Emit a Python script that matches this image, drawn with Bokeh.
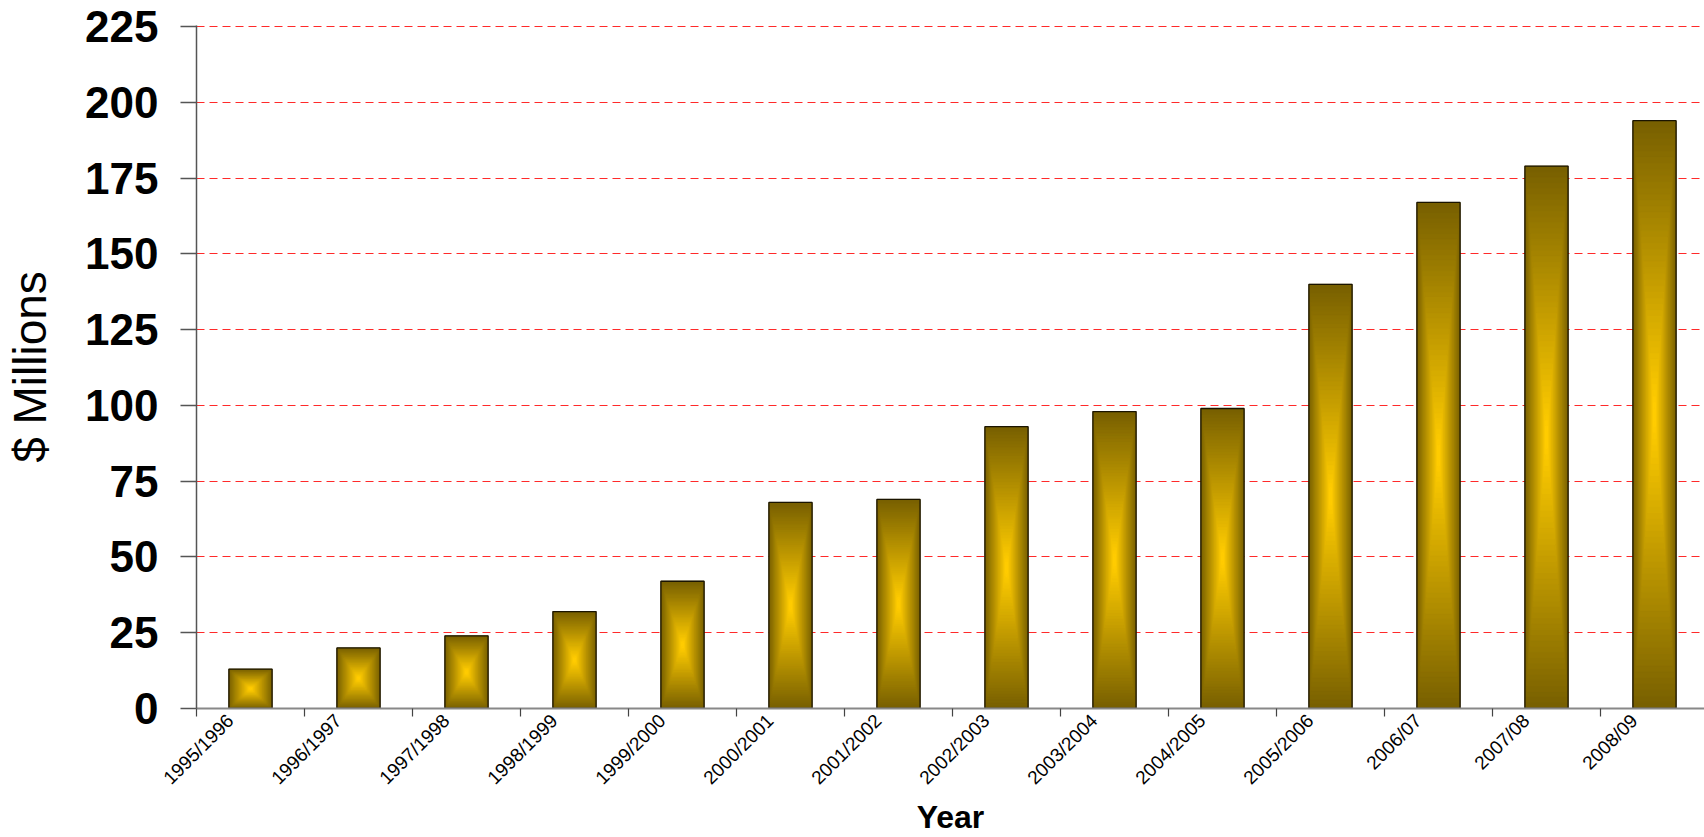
import math
from bokeh.plotting import figure
from bokeh.models import ColumnDataSource, Range1d, FixedTicker
from bokeh.embed import file_html
from bokeh.resources import INLINE

# ---- data ----
categories = ["1995/1996", "1996/1997", "1997/1998", "1998/1999", "1999/2000",
              "2000/2001", "2001/2002", "2002/2003", "2003/2004", "2004/2005",
              "2005/2006", "2006/07", "2007/08", "2008/09"]
values = [13, 20, 24, 32, 42, 68, 69, 93, 98, 99, 140, 167, 179, 194]
y_ticks = [0, 25, 50, 75, 100, 125, 150, 175, 200, 225]

# ---- style ----
FONT = "Liberation Sans"
DARK = (120, 96, 0)
BRIGHT = (255, 204, 0)
BAR_W = 0.40
STEPS = 48
LABEL_OFFSET = 0.3125
X_END = 13.963  # category slots visible inside the frame
Y_END = 225.4   # a hair above the top tick so its gridline shows

p = figure(width=1704, height=837, output_backend="svg", toolbar_location=None,
           x_range=Range1d(0, X_END), y_range=Range1d(0, Y_END),
           min_border_left=196, min_border_right=0, min_border_top=25, min_border_bottom=0)
p.outline_line_color = None
p.background_fill_color = "white"

# gradient bars: nested rectangles shrinking toward the centre of each bar
L, R, T, B, C = [], [], [], [], []
for i, v in enumerate(values):
    cx = i + 0.5
    cy = v / 2.0
    for k in range(STEPS):
        t = k / STEPS
        hw = BAR_W / 2 * (1 - t)
        hh = v / 2 * (1 - t)
        f = min(1.0, t * 1.05)
        col = tuple(int(round(DARK[j] + (BRIGHT[j] - DARK[j]) * f)) for j in range(3))
        L.append(cx - hw); R.append(cx + hw); T.append(cy + hh); B.append(cy - hh)
        C.append("#%02x%02x%02x" % col)
src = ColumnDataSource(dict(left=L, right=R, top=T, bottom=B, color=C))
p.quad(left="left", right="right", top="top", bottom="bottom", fill_color="color",
       line_color="color", line_width=0.6, source=src)

osrc = ColumnDataSource(dict(left=[i + 0.5 - BAR_W / 2 for i in range(len(values))],
                             right=[i + 0.5 + BAR_W / 2 for i in range(len(values))],
                             top=values, bottom=[0] * len(values)))
p.quad(left="left", right="right", top="top", bottom="bottom", fill_color=None,
       line_color="#1a1400", line_width=1.3, source=osrc)

# grid
p.xgrid.grid_line_color = None
p.ygrid.grid_line_color = "#ff2a2a"
p.ygrid.grid_line_dash = "8 5"
p.ygrid.grid_line_width = 1
p.ygrid.ticker = FixedTicker(ticks=y_ticks[1:])

# y axis
p.yaxis.ticker = FixedTicker(ticks=y_ticks)
p.yaxis.axis_label = "$ Millions"
p.yaxis.axis_label_text_font = FONT
p.yaxis.axis_label_text_font_size = "46px"
p.yaxis.axis_label_text_font_style = "normal"
p.yaxis.axis_label_text_color = "black"
p.yaxis.axis_label_standoff = 26
p.yaxis.major_label_text_font = FONT
p.yaxis.major_label_text_font_size = "44px"
p.yaxis.major_label_text_font_style = "bold"
p.yaxis.major_label_text_color = "black"
p.yaxis.major_label_standoff = 22
p.yaxis.major_tick_out = 16
p.yaxis.major_tick_in = 0
p.yaxis.minor_tick_out = 0
p.yaxis.minor_tick_in = 0
p.yaxis.axis_line_color = "#555555"
p.yaxis.axis_line_width = 1.5
p.yaxis.major_tick_line_color = "#555555"
p.yaxis.major_tick_line_width = 1.5

# x axis
n = len(categories)
label_pos = [i + LABEL_OFFSET for i in range(n)]
p.xaxis.ticker = FixedTicker(ticks=label_pos, minor_ticks=list(range(n + 1)))
p.xaxis.major_label_overrides = {pos: cat for pos, cat in zip(label_pos, categories)}
p.xaxis.major_label_orientation = math.pi / 4
p.xaxis.major_label_text_font = FONT
p.xaxis.major_label_text_font_size = "19px"
p.xaxis.major_label_text_color = "black"
p.xaxis.major_label_standoff = 1
p.xaxis.major_tick_out = 0
p.xaxis.major_tick_in = 0
p.xaxis.minor_tick_out = 8
p.xaxis.minor_tick_in = 0
p.xaxis.minor_tick_line_color = "#444444"
p.xaxis.minor_tick_line_width = 1.2
p.xaxis.axis_line_color = "#888888"
p.xaxis.axis_line_width = 2
p.xaxis.axis_label = "Year"
p.xaxis.axis_label_text_font = FONT
p.xaxis.axis_label_text_font_size = "32px"
p.xaxis.axis_label_text_font_style = "bold"
p.xaxis.axis_label_text_color = "black"
p.xaxis.axis_label_standoff = 0

open("out.html", "w").write(file_html(p, INLINE))
